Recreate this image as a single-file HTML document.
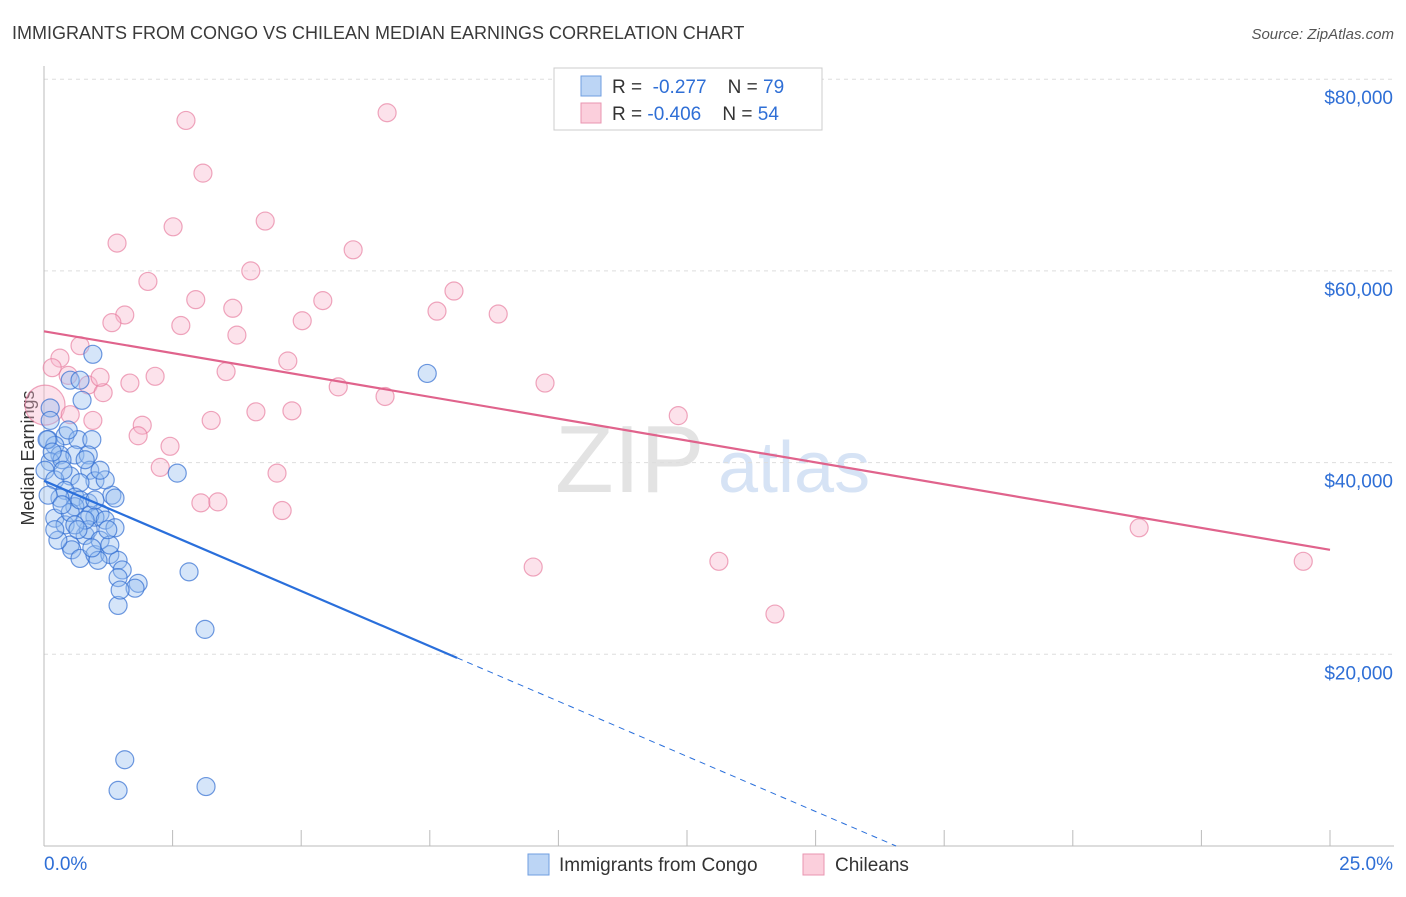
<!DOCTYPE html>
<html><head><meta charset="utf-8"><style>
body{margin:0;background:#fff;font-family:"Liberation Sans",sans-serif}
svg text{font-family:"Liberation Sans",sans-serif}
</style></head><body>
<svg id="c" width="1406" height="892">
<text x="12" y="39" font-size="18" fill="#3a3a3a">IMMIGRANTS FROM CONGO VS CHILEAN MEDIAN EARNINGS CORRELATION CHART</text>
<text x="1394" y="39" font-size="15" fill="#555" font-style="italic" text-anchor="end">Source: ZipAtlas.com</text>
<text x="34" y="458" font-size="18" fill="#333" text-anchor="middle" transform="rotate(-90 34 458)">Median Earnings</text>
<text x="555" y="492" font-size="96" fill="#e3e3e3" font-family="Liberation Serif">ZIP</text>
<text x="718" y="492" font-size="72" fill="#d6e3f5">atlas</text>
<g id="grid"></g><g id="pts"></g><g id="lines"></g>
<g>
<rect x="554" y="68" width="268" height="62" fill="#fff" stroke="#ccc"/>
<rect x="581" y="76" width="20" height="20" fill="#bcd5f5" stroke="#6f9ee0"/>
<rect x="581" y="103" width="20" height="20" fill="#fbcfdc" stroke="#e896b0"/>
<text x="612" y="93" font-size="19" fill="#333">R = <tspan fill="#2f6fd6">&#160;-0.277</tspan><tspan fill="#333">&#160;&#160;&#160; N = </tspan><tspan fill="#2f6fd6">79</tspan></text>
<text x="612" y="120" font-size="19" fill="#333">R = <tspan fill="#2f6fd6">-0.406</tspan><tspan fill="#333">&#160;&#160;&#160; N = </tspan><tspan fill="#2f6fd6">54</tspan></text>
</g>
<g>
<rect x="528" y="854" width="21" height="21" fill="#bcd5f5" stroke="#6f9ee0"/>
<text x="559" y="871" font-size="19" fill="#333">Immigrants from Congo</text>
<rect x="803" y="854" width="21" height="21" fill="#fbcfdc" stroke="#e896b0"/>
<text x="835" y="871" font-size="19" fill="#333">Chileans</text>
</g>
</svg>
<script>
const yTicks=[20000,40000,60000,80000];
const yTickLabels=["$20,000","$40,000","$60,000","$80,000"];
const xEndLabels=["0.0%","25.0%"];
const congoX=[0.95,0.51,0.70,0.74,0.12,0.08,0.41,0.66,0.93,0.21,0.31,0.60,0.86,0.12,0.35,0.02,0.89,0.51,0.21,0.99,0.70,0.41,0.60,1.32,1.38,0.31,0.86,0.60,1.09,0.99,0.89,1.19,0.21,0.41,0.80,1.38,0.51,0.54,0.70,0.99,1.28,1.44,1.05,0.86,1.52,1.44,1.83,1.77,1.44,2.59,2.82,3.13,1.57,1.44,3.15,7.45,0.06,0.16,0.37,0.51,0.80,0.27,1.09,0.70,1.19,0.08,0.35,0.60,0.93,1.28,1.09,0.47,0.80,0.99,0.21,0.66,1.24,1.48,0.12];
const congoY=[51.3,48.6,48.6,46.5,45.7,42.4,42.8,42.4,42.4,41.8,40.8,40.8,40.8,40.1,40.3,39.2,39.2,38.6,38.2,38.1,37.9,37.1,36.4,36.6,36.3,36.3,35.8,35.4,34.7,34.3,34.5,34.0,34.2,33.5,32.4,33.2,31.4,30.9,30.0,30.4,30.4,29.8,29.8,33.0,28.8,28.0,27.4,26.9,25.1,38.9,28.6,22.6,9.0,5.8,6.2,49.3,42.4,41.1,39.2,34.8,34.0,31.9,31.9,36.1,38.2,36.6,35.6,33.5,31.1,31.4,39.2,43.4,40.3,36.1,33.0,33.0,33.0,26.7,44.4];
const chileX=[2.76,6.67,3.09,4.30,2.51,1.42,6.01,4.02,2.02,2.95,5.42,3.67,7.97,1.57,2.66,1.32,5.02,7.64,8.83,3.75,0.70,0.31,0.16,4.74,0.47,3.54,2.16,1.67,9.74,0.86,1.15,5.72,6.63,0.02,4.12,4.82,3.25,0.95,1.91,1.83,2.45,2.26,4.53,3.05,3.38,4.63,12.33,21.29,9.51,13.12,14.21,24.48,0.51,1.09];
const chileY=[75.7,76.5,70.2,65.2,64.6,62.9,62.2,60.0,58.9,57.0,56.9,56.1,57.9,55.4,54.3,54.6,54.8,55.8,55.5,53.3,52.2,50.9,49.9,50.6,49.1,49.5,49.0,48.3,48.3,48.1,47.3,47.9,46.9,46.0,45.3,45.4,44.4,44.4,43.9,42.8,41.7,39.5,38.9,35.8,35.9,35.0,44.9,33.2,29.1,29.7,24.2,29.7,45.0,48.9];
const congoTrend=[38.1,-2.30];
const chileTrend=[53.7,-0.912];

const NS="http://www.w3.org/2000/svg";
const X0=44,X1=1330,Y0=846,PXK=9.585;
const sx=v=>X0+(v/25)*(X1-X0);
const sy=v=>Y0-v*PXK;
function mk(tag,attrs,parent){const e=document.createElementNS(NS,tag);for(const k in attrs)e.setAttribute(k,attrs[k]);parent.appendChild(e);return e;}
const grid=document.getElementById('grid'),pts=document.getElementById('pts'),lines=document.getElementById('lines');
yTicks.forEach((t,i)=>{
 const l=mk('line',{x1:X0,x2:1394,y1:sy(t/1000),y2:sy(t/1000),stroke:'#ddd','stroke-dasharray':'4,4'},grid);
 
 
 const tx=mk('text',{x:1393,y:sy(t/1000)+25,'font-size':19,fill:'#2f6fd6','text-anchor':'end'},grid);
 tx.textContent=yTickLabels[i];
 
 
});
const ax=mk('line',{x1:X0,x2:X0,y1:66,y2:846,stroke:'#bbb'},grid);


const bx=mk('line',{x1:X0,x2:1394,y1:846,y2:846,stroke:'#bbb'},grid);


for(let i=0;i<=10;i++){
 const t=mk('line',{x1:sx(i*2.5),x2:sx(i*2.5),y1:830,y2:846,stroke:'#bbb'},grid);
 
 
}
[[0,'start'],[25,'end']].forEach((p,i)=>{
 const tx=mk('text',{x:i?1393:44,y:870,'font-size':19,fill:'#2f6fd6','text-anchor':p[1]},grid);
 tx.textContent=xEndLabels[i];
 
 
});
chileX.forEach((v,i)=>{
 const c=mk('circle',{cx:sx(v),cy:sy(chileY[i]),r:(i===33?20:9),fill:'rgba(248,182,204,0.4)',stroke:'rgba(230,120,155,0.65)','stroke-width':1.2},pts);
 
 
});
congoX.forEach((v,i)=>{
 const c=mk('circle',{cx:sx(v),cy:sy(congoY[i]),r:9,fill:'rgba(150,190,240,0.4)',stroke:'rgba(50,110,210,0.7)','stroke-width':1.2},pts);
 
 
});
const cEnd=8.03, cZero=-congoTrend[0]/congoTrend[1];
const l1=mk('line',{x1:sx(0),y1:sy(congoTrend[0]),x2:sx(cEnd),y2:sy(congoTrend[0]+congoTrend[1]*cEnd),stroke:'#2a6fdb','stroke-width':2.2},lines);


const l2=mk('line',{x1:sx(cEnd),y1:sy(congoTrend[0]+congoTrend[1]*cEnd),x2:sx(cZero),y2:sy(0),stroke:'#2a6fdb','stroke-width':1,'stroke-dasharray':'6,5'},lines);


const l3=mk('line',{x1:sx(0),y1:sy(chileTrend[0]),x2:sx(25),y2:sy(chileTrend[0]+chileTrend[1]*25),stroke:'#e0638c','stroke-width':2.2},lines);


</script>
</body></html>
